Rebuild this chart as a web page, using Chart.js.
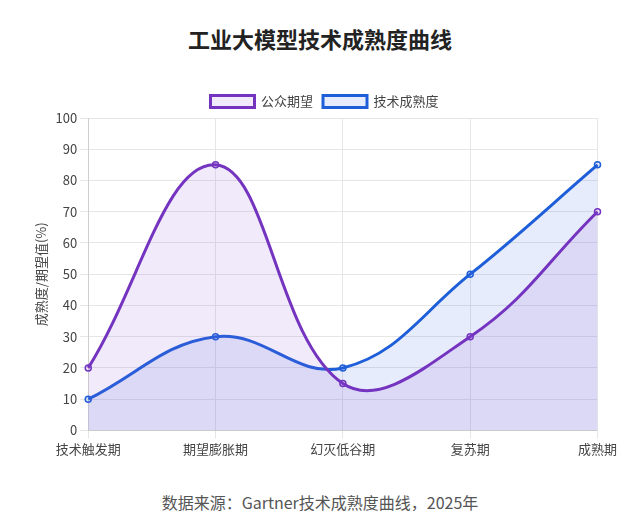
<!DOCTYPE html>
<html>
<head>
<meta charset="utf-8">
<script src="https://cdn.jsdelivr.net/npm/chart.js@4"></script>
<style>
  body { margin: 0; background: #fff; font-family: "Noto Sans CJK SC", "Noto Sans", sans-serif; }
  #wrap { position: relative; width: 640px; height: 522px; }
  h1 { position: absolute; top: 22px; left: 0; width: 640px; margin: 0; text-align: center; font-size: 22px; font-weight: bold; color: #222; }
  #box { position: absolute; left: 29px; top: 85px; width: 591px; height: 375px; }
  #src { position: absolute; top: 490px; left: 0; width: 640px; text-align: center; font-size: 16px; color: #555; }
</style>
</head>
<body>
<div id="wrap">
  <h1>工业大模型技术成熟度曲线</h1>
  <div id="box"><canvas id="chart"></canvas></div>
  <div id="src">数据来源：Gartner技术成熟度曲线，2025年</div>
</div>
<script>
const stages = ['技术触发期', '期望膨胀期', '幻灭低谷期', '复苏期', '成熟期'];
const expectation = [20, 85, 15, 30, 70];
const maturity = [10, 30, 20, 50, 85];

Chart.defaults.font.family = '"Noto Sans CJK SC", "Noto Sans", sans-serif';
Chart.defaults.color = '#444';

new Chart(document.getElementById('chart').getContext('2d'), {
    type: 'line',
    data: {
        labels: stages,
        datasets: [{
            label: '公众期望',
            data: expectation,
            borderColor: '#7434C0',
            backgroundColor: 'rgba(140, 80, 210, 0.12)',
            borderWidth: 3,
            pointRadius: 3,
            pointBorderWidth: 1.5,
            fill: 'origin',
            tension: 0.4
        }, {
            label: '技术成熟度',
            data: maturity,
            borderColor: '#1E5FD9',
            backgroundColor: 'rgba(60, 100, 230, 0.12)',
            borderWidth: 3,
            pointRadius: 3,
            pointBorderWidth: 1.5,
            fill: 'origin',
            tension: 0.4
        }]
    },
    options: {
        responsive: true,
        maintainAspectRatio: false,
        animation: false,
        plugins: {
            legend: {
                position: 'top',
                labels: { font: { size: 13 }, boxWidth: 44, boxHeight: 12 }
            }
        },
        scales: {
            x: {
                grid: { color: '#e6e6e6' },
                ticks: { font: { size: 13 } }
            },
            y: {
                min: 0,
                max: 100,
                ticks: { stepSize: 10, font: { size: 13 } },
                grid: { color: '#e6e6e6' },
                title: { display: true, text: '成熟度/期望值(%)', font: { size: 13 } }
            }
        }
    }
});
</script>
</body>
</html>
